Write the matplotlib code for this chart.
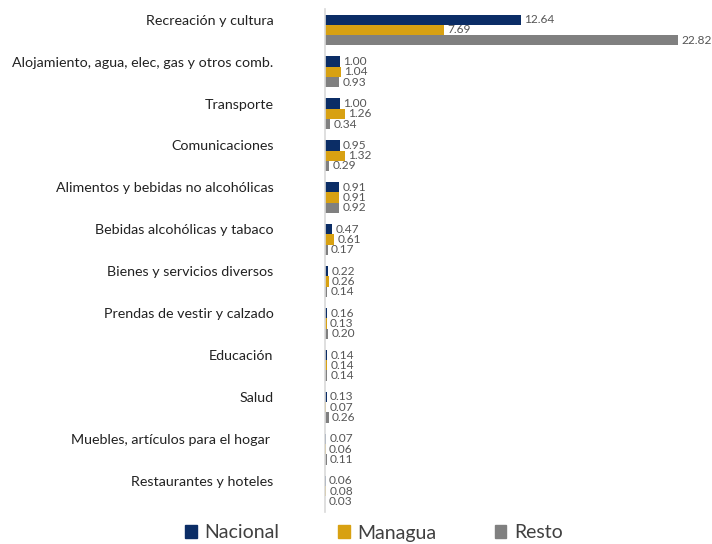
import numpy as np
import matplotlib.pyplot as plt
from matplotlib.patches import Patch

plt.rcParams["font.family"] = ["Lato", "DejaVu Sans"]

categories = [
    "Recreación y cultura",
    "Alojamiento, agua, elec, gas y otros comb.",
    "Transporte",
    "Comunicaciones",
    "Alimentos y bebidas no alcohólicas",
    "Bebidas alcohólicas y tabaco",
    "Bienes y servicios diversos",
    "Prendas de vestir y calzado",
    "Educación",
    "Salud",
    "Muebles, artículos para el hogar ",
    "Restaurantes y hoteles",
]
nacional = [12.64, 1.00, 1.00, 0.95, 0.91, 0.47, 0.22, 0.16, 0.14, 0.13, 0.07, 0.06]
managua = [7.69, 1.04, 1.26, 1.32, 0.91, 0.61, 0.26, 0.13, 0.14, 0.07, 0.06, 0.08]
resto = [22.82, 0.93, 0.34, 0.29, 0.92, 0.17, 0.14, 0.20, 0.14, 0.26, 0.11, 0.03]

series = [("Nacional", nacional, "#0B2D66"),
          ("Managua", managua, "#D8A112"),
          ("Resto", resto, "#808080")]

fig = plt.figure(figsize=(7.12, 5.44), dpi=100)
ax = fig.add_axes([325 / 712, 1 - 512 / 544, 1 - 325 / 712, 503 / 544])

y = np.arange(len(categories))
h = 0.245
for k, (name, vals, color) in enumerate(series):
    pos = y + (k - 1) * h
    ax.barh(pos, vals, height=h, color=color, label=name)
    for p, v in zip(pos, vals):
        ax.text(v + 0.2, p, f"{v:.2f}", va="center", ha="left",
                fontsize=8.6, color="#555555")

ax.set_xlim(0, 25)
ax.set_ylim(len(categories) - 0.5, -0.5)
ax.set_yticks(y - h)
ax.set_yticklabels(categories, fontsize=10.3, color="#222222")
ax.tick_params(axis="y", length=0, pad=37)
ax.set_xticks([])
for s in ["top", "right", "bottom"]:
    ax.spines[s].set_visible(False)
ax.spines["left"].set_color("#D9D9D9")
ax.spines["left"].set_linewidth(1.2)

handles = [Patch(color=c, label=n) for n, _, c in series]
fig.legend(handles=handles, loc="center", bbox_to_anchor=(374 / 712, 1 - 533 / 544),
           ncol=3, frameon=False, fontsize=14, handlelength=0.6, handleheight=0.6,
           handletextpad=0.4, columnspacing=3.0, labelcolor="#404040")

fig.savefig("out.png", dpi=100)
